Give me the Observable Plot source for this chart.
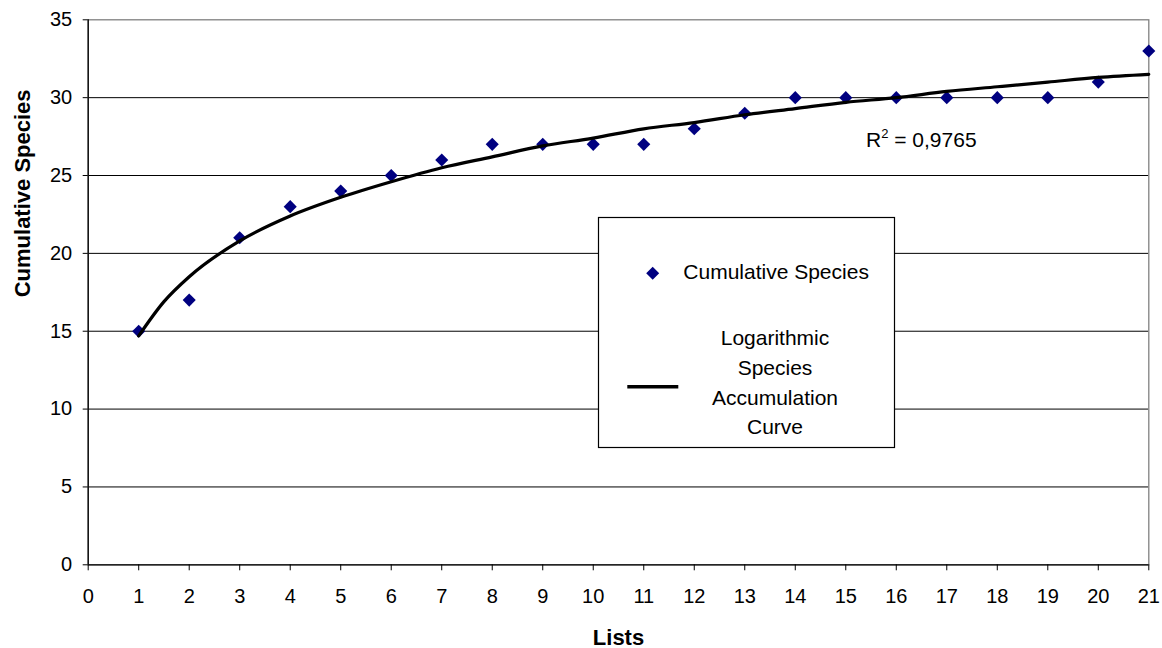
<!DOCTYPE html>
<html>
<head>
<meta charset="utf-8">
<script src="https://cdn.jsdelivr.net/npm/d3@7"></script>
<script src="https://cdn.jsdelivr.net/npm/@observablehq/plot@0.6"></script>
<style>
  html, body { margin: 0; padding: 0; background: #fff; }
  #wrap { position: relative; width: 1162px; height: 648px; font-family: "Liberation Sans", Arial, sans-serif; }
  #overlay { position: absolute; left: 0; top: 0; pointer-events: none; }
</style>
</head>
<body>
<div id="wrap"></div>
<script>
// ---- data ----
const lists = [1, 2, 3, 4, 5, 6, 7, 8, 9, 10, 11, 12, 13, 14, 15, 16, 17, 18, 19, 20, 21];
const cumulativeSpecies = [15, 17, 21, 23, 24, 25, 26, 27, 27, 27, 27, 28, 29, 30, 30, 30, 30, 30, 30, 31, 33];

// trend line (logarithmic)
const trendLists = [1, 1.5, 2, 3, 4, 5, 6, 7, 8, 9, 10, 11, 12, 13, 14, 15, 16, 17, 18, 19, 20, 21];
const trendSpecies = [14.7, 16.9, 18.5, 20.8, 22.4, 23.6, 24.6, 25.5, 26.2, 26.9, 27.4, 28.0, 28.4, 28.9, 29.3, 29.7, 30.0, 30.4, 30.7, 31.0, 31.3, 31.5];

const xTicks = [0, 1, 2, 3, 4, 5, 6, 7, 8, 9, 10, 11, 12, 13, 14, 15, 16, 17, 18, 19, 20, 21];
const yTicks = [0, 5, 10, 15, 20, 25, 30, 35];
const xDomain = [0, 21];
const yDomain = [0, 35];

const xTitle = "Lists";
const yTitle = "Cumulative Species";
const seriesName = "Cumulative Species";
const trendName = ["Logarithmic", "Species", "Accumulation", "Curve"];
const rSquaredLabel = "0,9765";

// ---- chart ----
const points = lists.map((x, i) => ({x, y: cumulativeSpecies[i]}));
const trend = trendLists.map((x, i) => ({x, y: trendSpecies[i]}));

const chart = Plot.plot({
  width: 1162,
  height: 648,
  marginLeft: 87.7,
  marginRight: 13.7,
  marginTop: 19.3,
  marginBottom: 83.7,
  x: {domain: xDomain},
  y: {domain: yDomain},
  style: {
    fontFamily: "'Liberation Sans', Arial, sans-serif",
    fontSize: "20px",
    color: "#000",
    background: "#fff",
    overflow: "visible"
  },
  marks: [
    Plot.gridY(yTicks.filter(t => t > yDomain[0] && t < yDomain[1]), {stroke: "#000", strokeOpacity: 1, strokeWidth: 1}),
    Plot.frame({stroke: "#808080", strokeWidth: 1.3}),
    Plot.ruleX([xDomain[0]], {stroke: "#000", strokeWidth: 1.3}),
    Plot.ruleY([yDomain[0]], {stroke: "#000", strokeWidth: 1.3}),
    Plot.axisY({ticks: yTicks, tickSize: 5, tickPadding: 11, label: null, stroke: "#000"}),
    Plot.axisX({ticks: xTicks, tickSize: 6, tickPadding: 18, label: null, stroke: "#000"}),
    Plot.dot(points, {x: "x", y: "y", symbol: "diamond2", r: 5.9, fill: "#000080", stroke: "none"}),
    Plot.line(trend, {x: "x", y: "y", curve: "monotone-x", stroke: "#000", strokeWidth: 3.2}),
    Plot.text([xTitle], {frameAnchor: "bottom", dy: 80, lineAnchor: "bottom", fontWeight: "bold", fontSize: 22}),
    Plot.text([yTitle], {frameAnchor: "left", rotate: -90, dx: -65.2, dy: 5, lineAnchor: "middle", fontWeight: "bold", fontSize: 22})
  ]
});

const wrap = document.getElementById("wrap");
wrap.appendChild(chart);

// ---- legend box and R² annotation (overlay) ----
const ns = "http://www.w3.org/2000/svg";
const ov = d3.select(wrap).append("svg")
  .attr("id", "overlay")
  .attr("xmlns", ns)
  .attr("width", 1162)
  .attr("height", 648)
  .style("font-family", "'Liberation Sans', Arial, sans-serif")
  .style("font-size", "21px");

ov.append("rect")
  .attr("x", 598.5).attr("y", 217.5).attr("width", 296).attr("height", 230)
  .attr("fill", "#fff").attr("stroke", "#000").attr("stroke-width", 1.2);

ov.append("path")
  .attr("d", "M652.7,266.8 L659.2,273.3 L652.7,279.8 L646.2,273.3 Z")
  .attr("fill", "#000080");

ov.append("text")
  .attr("x", 683.3).attr("y", 279)
  .text(seriesName);

ov.append("line")
  .attr("x1", 627.3).attr("x2", 678.3).attr("y1", 386.7).attr("y2", 386.7)
  .attr("stroke", "#000").attr("stroke-width", 3.4);

const baselines = [345, 375, 405, 434.3];
trendName.forEach((t, i) => {
  ov.append("text")
    .attr("x", 775).attr("y", baselines[i])
    .attr("text-anchor", "middle")
    .text(t);
});

const r2 = ov.append("text").attr("x", 866).attr("y", 146.5);
r2.append("tspan").text("R");
r2.append("tspan").attr("dy", -9).attr("font-size", "13px").text("2");
r2.append("tspan").attr("dy", 9).text(" = " + rSquaredLabel);
</script>
</body>
</html>
